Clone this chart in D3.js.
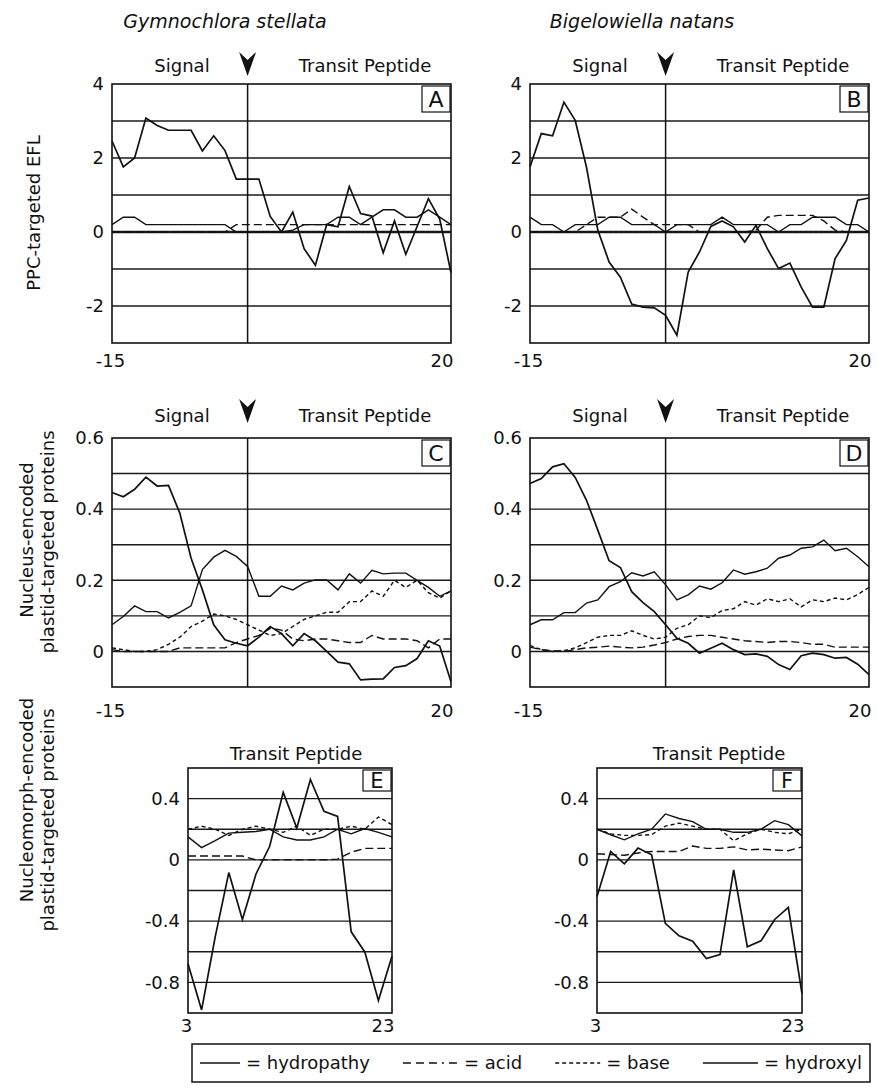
<!DOCTYPE html>
<html><head><meta charset="utf-8">
<script src="https://cdn.jsdelivr.net/npm/d3@7"></script>
<style>
body{margin:0;background:#fff;}
text{font-family:"DejaVu Sans",Verdana,sans-serif;fill:#111;}
</style>
</head><body>
<svg id="c" width="878" height="1088"></svg>
<script>
// ---------- DATA ----------
const xLabelsTop = ["-15", "20"];
const xLabelsBottom = ["3", "23"];
const yTicksAB = [4, 2, 0, -2];
const yTicksCD = [0.6, 0.4, 0.2, 0];
const yTicksEF = [0.4, 0, -0.4, -0.8];
const gridAB = [3, 2, 1, 0, -1, -2];
const gridCD = [0.5, 0.4, 0.3, 0.2, 0.1, 0];
const gridEF = [0.4, 0.2, 0, -0.2, -0.4, -0.6, -0.8];
const legendLabels = ["= hydropathy", "= acid", "= base", "= hydroxyl"];

// Panel A (Gymnochlora stellata, PPC-targeted EFL)
const hydropathyA = [2.46,1.76,2.0,3.08,2.88,2.75,2.75,2.75,2.19,2.6,2.2,1.43,1.43,1.43,0.42,0,0.54,-0.45,-0.9,0.2,0.14,1.23,0.5,0.43,-0.56,0.3,-0.6,0.15,0.9,0.35,-1.1];
const acidA = [0,0,0,0,0,0,0,0,0,0,0,0.2,0.2,0.2,0.2,0.2,0.2,0.2,0.2,0.2,0.2,0.2,0.2,0.2,0.2,0.2,0.2,0.2,0.2,0.2,0.2];
const baseA = [0,0,0,0,0,0,0,0,0,0,0,0,0,0,0,0,0,0,0,0,0,0,0,0,0,0,0,0,0,0,0];
const hydroxylA = [0.2,0.4,0.4,0.2,0.2,0.2,0.2,0.2,0.2,0.2,0.2,0,0,0,0,0,0.05,0.2,0.2,0.2,0.4,0.4,0.2,0.4,0.6,0.6,0.4,0.4,0.6,0.4,0.2];

// Panel B (Bigelowiella natans, PPC-targeted EFL)
const hydropathyB = [1.76,2.66,2.6,3.51,3.02,1.75,0.05,-0.81,-1.22,-1.95,-2.03,-2.05,-2.25,-2.79,-1.08,-0.54,0.15,0.3,0.14,-0.27,0.18,-0.45,-0.99,-0.84,-1.49,-2.03,-2.03,-0.72,-0.23,0.86,0.92];
const acidB = [0,0,0,0,0,0.2,0.4,0.4,0.4,0.62,0.4,0.2,0.2,0.2,0.2,0,0,0,0,0,0.05,0.4,0.45,0.45,0.45,0.45,0.3,0.05,0,0,0];
const baseB = [0,0,0,0,0,0,0,0,0,0,0,0,0,0,0,0,0,0,0,0,0,0,0,0,0,0,0,0,0,0,0];
const hydroxylB = [0.4,0.2,0.2,0,0.2,0.2,0.2,0.4,0.4,0.2,0.2,0.2,0,0.2,0.2,0.2,0.2,0.4,0.2,0.2,0.2,0.2,0,0.2,0.2,0.4,0.4,0.4,0.2,0.2,0];

// Panel C (Gymnochlora, nucleus-encoded)
const hydropathyC = [0.447,0.435,0.456,0.49,0.465,0.467,0.389,0.262,0.173,0.075,0.033,0.023,0.016,0.04,0.07,0.05,0.016,0.05,0.03,0.0,-0.03,-0.035,-0.08,-0.078,-0.077,-0.045,-0.04,-0.02,0.03,0.015,-0.085];
const acidC = [0.005,0,0,0,0,0,0.01,0.01,0.01,0.01,0.01,0.025,0.035,0.045,0.065,0.06,0.035,0.03,0.035,0.035,0.03,0.025,0.025,0.045,0.035,0.035,0.035,0.03,0.01,0.035,0.035];
const baseC = [0.01,0.005,0,0,0.005,0.02,0.04,0.07,0.085,0.105,0.1,0.09,0.075,0.06,0.045,0.05,0.07,0.09,0.1,0.11,0.11,0.14,0.14,0.17,0.155,0.2,0.18,0.2,0.165,0.15,0.17];
const hydroxylC = [0.075,0.098,0.128,0.112,0.112,0.094,0.11,0.128,0.23,0.265,0.284,0.267,0.239,0.155,0.155,0.184,0.173,0.192,0.201,0.201,0.173,0.218,0.192,0.228,0.218,0.22,0.22,0.2,0.18,0.155,0.17];

// Panel D (Bigelowiella, nucleus-encoded)
const hydropathyD = [0.472,0.486,0.519,0.528,0.489,0.425,0.341,0.255,0.236,0.168,0.137,0.112,0.075,0.037,0.023,-0.005,0.009,0.023,0.005,-0.009,-0.007,-0.014,-0.037,-0.051,-0.012,-0.005,-0.009,-0.019,-0.017,-0.036,-0.065];
const acidD = [0.012,0.005,0.002,0,0.005,0.01,0.012,0.015,0.012,0.01,0.012,0.018,0.025,0.035,0.042,0.045,0.045,0.04,0.035,0.03,0.028,0.025,0.028,0.028,0.025,0.02,0.02,0.012,0.012,0.012,0.012];
const baseD = [0.017,0.005,0,0.002,0.01,0.025,0.04,0.045,0.045,0.058,0.045,0.035,0.04,0.065,0.075,0.1,0.095,0.115,0.12,0.14,0.13,0.148,0.14,0.148,0.125,0.145,0.14,0.15,0.145,0.16,0.18];
const hydroxylD = [0.075,0.089,0.089,0.109,0.109,0.136,0.145,0.182,0.196,0.221,0.212,0.224,0.187,0.145,0.159,0.184,0.175,0.193,0.229,0.217,0.224,0.234,0.262,0.271,0.29,0.294,0.313,0.283,0.29,0.266,0.238];

// Panel E (Gymnochlora, nucleomorph-encoded)
const hydropathyE = [-0.678,-0.98,-0.503,-0.083,-0.389,-0.092,0.087,0.441,0.208,0.525,0.317,0.284,-0.47,-0.601,-0.918,-0.63];
const acidE = [0.025,0.025,0.025,0.025,0.025,0,0,0,0,0,0,0.005,0.05,0.075,0.075,0.075];
const baseE = [0.2,0.22,0.2,0.16,0.2,0.22,0.2,0.18,0.22,0.16,0.2,0.2,0.22,0.2,0.28,0.23];
const hydroxylE = [0.15,0.08,0.125,0.175,0.18,0.185,0.2,0.15,0.13,0.13,0.15,0.2,0.17,0.205,0.18,0.15];

// Panel F (Bigelowiella, nucleomorph-encoded)
const hydropathyF = [-0.24,0.055,-0.026,0.077,0.033,-0.415,-0.496,-0.531,-0.645,-0.619,-0.066,-0.568,-0.529,-0.389,-0.31,-0.874];
const acidF = [0.04,0.035,0.03,0.045,0.055,0.055,0.055,0.09,0.075,0.075,0.085,0.065,0.07,0.065,0.06,0.085];
const baseF = [0.2,0.17,0.16,0.16,0.165,0.22,0.24,0.22,0.2,0.2,0.125,0.17,0.2,0.18,0.17,0.2];
const hydroxylF = [0.2,0.164,0.131,0.17,0.2,0.3,0.27,0.25,0.2,0.2,0.18,0.18,0.2,0.256,0.23,0.157];

// ---------- DRAWING ----------
const svg = d3.select("#c");
const INK = "#111";

const styles = {
  base:       {w: 1.4, dash: "4,3"},
  acid:       {w: 1.4, dash: "8,4"},
  hydroxyl:   {w: 1.4, dash: null},
  hydropathy: {w: 1.7, dash: null}
};

function arrow(cx, top) {
  svg.append("path")
    .attr("d", `M${cx-8.5},${top} L${cx},${top+8} L${cx+8.5},${top} L${cx},${top+24} Z`)
    .attr("fill", INK);
}

function drawPanel(p) {
  const g = svg.append("g");
  const n = p.series.hydropathy.length;
  const x = d3.scaleLinear().domain([0, n - 1]).range([p.x0, p.x1]);
  const y = d3.scaleLinear().domain(p.yDomain).range([p.y1, p.y0]);

  g.selectAll("line.grid").data(p.grid).join("line")
    .attr("x1", p.x0).attr("x2", p.x1)
    .attr("y1", d => y(d)).attr("y2", d => y(d))
    .attr("stroke", "#1a1a1a")
    .attr("stroke-width", d => (d === 0 && p.thickZero) ? 2.6 : 1.4);

  if (p.divider != null) {
    g.append("line").attr("x1", x(p.divider)).attr("x2", x(p.divider))
      .attr("y1", p.y0).attr("y2", p.y1).attr("stroke", INK).attr("stroke-width", 1.5);
  }

  const line = d3.line().x((d, i) => x(i)).y(d => y(d));
  ["base", "acid", "hydroxyl", "hydropathy"].forEach(k => {
    const st = styles[k];
    g.append("path").datum(p.series[k])
      .attr("d", line).attr("fill", "none").attr("stroke", INK)
      .attr("stroke-width", st.w)
      .attr("stroke-linejoin", "miter")
      .attr("stroke-dasharray", (k === "base" && p.thickZero) ? "2,3" : st.dash);
  });

  g.append("rect").attr("x", p.x0).attr("y", p.y0)
    .attr("width", p.x1 - p.x0).attr("height", p.y1 - p.y0)
    .attr("fill", "none").attr("stroke", INK).attr("stroke-width", 1.6);

  // letter box
  const bw = 28, bh = p.boxH;
  g.append("rect").attr("x", p.x1 - bw - 1).attr("y", p.y0 + 2)
    .attr("width", bw).attr("height", bh)
    .attr("fill", "#fff").attr("stroke", INK).attr("stroke-width", 1.2);
  g.append("text").attr("x", p.x1 - bw / 2 - 1).attr("y", p.y0 + 2 + bh / 2)
    .attr("dy", "0.36em").attr("text-anchor", "middle")
    .style("font-size", p.letterSize + "px").text(p.letter);

  // y axis labels
  const ya = g.append("g").attr("transform", `translate(${p.x0},0)`)
    .call(d3.axisLeft(y).tickValues(p.yTicks).tickSize(0).tickPadding(8).tickFormat(d => String(d)));
  ya.select(".domain").remove();
  ya.selectAll("text").style("font-size", "18px").style("font-family", '"DejaVu Sans",Verdana,sans-serif').attr("fill", INK);

  // x axis labels
  const xa = g.append("g").attr("transform", `translate(0,${p.y1})`)
    .call(d3.axisBottom(x).tickValues([0, n - 1]).tickSize(0).tickPadding(p.xPad)
      .tickFormat((d, i) => p.xLabels[i]));
  xa.select(".domain").remove();
  xa.selectAll("text").style("font-size", "18px").style("font-family", '"DejaVu Sans",Verdana,sans-serif').attr("fill", INK)
    .attr("text-anchor", (d, i) => i === 0 ? "middle" : "end")
    .attr("dx", (d, i) => i === 0 ? -2 : 2);
}

const LX = 112, RX = 530, W = 339;
const rowAB = {y0: 84, y1: 343};
const rowCD = {y0: 438, y1: 687};

drawPanel({x0: LX, x1: LX + W, ...rowAB, yDomain: [-3, 4], grid: gridAB, yTicks: yTicksAB, thickZero: true, divider: 12,
  xLabels: xLabelsTop, xPad: 11, letter: "A", boxH: 26, letterSize: 22,
  series: {hydropathy: hydropathyA, acid: acidA, base: baseA, hydroxyl: hydroxylA}});
drawPanel({x0: RX, x1: RX + W, ...rowAB, yDomain: [-3, 4], grid: gridAB, yTicks: yTicksAB, thickZero: true, divider: 12,
  xLabels: xLabelsTop, xPad: 11, letter: "B", boxH: 26, letterSize: 22,
  series: {hydropathy: hydropathyB, acid: acidB, base: baseB, hydroxyl: hydroxylB}});
drawPanel({x0: LX, x1: LX + W, ...rowCD, yDomain: [-0.1, 0.6], grid: gridCD, yTicks: yTicksCD, thickZero: false, divider: 12,
  xLabels: xLabelsTop, xPad: 17, letter: "C", boxH: 26, letterSize: 22,
  series: {hydropathy: hydropathyC, acid: acidC, base: baseC, hydroxyl: hydroxylC}});
drawPanel({x0: RX, x1: RX + W, ...rowCD, yDomain: [-0.1, 0.6], grid: gridCD, yTicks: yTicksCD, thickZero: false, divider: 12,
  xLabels: xLabelsTop, xPad: 17, letter: "D", boxH: 26, letterSize: 22,
  series: {hydropathy: hydropathyD, acid: acidD, base: baseD, hydroxyl: hydroxylD}});
drawPanel({x0: 188, x1: 392, y0: 768, y1: 1013, yDomain: [-1, 0.6], grid: gridEF, yTicks: yTicksEF, thickZero: false, divider: null,
  xLabels: xLabelsBottom, xPad: 6, letter: "E", boxH: 21, letterSize: 21,
  series: {hydropathy: hydropathyE, acid: acidE, base: baseE, hydroxyl: hydroxylE}});
drawPanel({x0: 597, x1: 802, y0: 768, y1: 1013, yDomain: [-1, 0.6], grid: gridEF, yTicks: yTicksEF, thickZero: false, divider: null,
  xLabels: xLabelsBottom, xPad: 6, letter: "F", boxH: 21, letterSize: 21,
  series: {hydropathy: hydropathyF, acid: acidF, base: baseF, hydroxyl: hydroxylF}});

// headers
function txt(x, y, s, size, opts = {}) {
  const t = svg.append("text").attr("x", x).attr("y", y).attr("text-anchor", opts.anchor || "middle")
    .style("font-size", size + "px").text(s);
  if (opts.italic) t.style("font-style", "italic");
  return t;
}
txt(225, 28, "Gymnochlora stellata", 19, {italic: true});
txt(642, 28, "Bigelowiella natans", 19, {italic: true});

[[LX, 72, 52], [RX, 72, 52], [LX, 422, 399], [RX, 422, 399]].forEach(([x0, ty, ay]) => {
  const dx = x0 + 12 * (W / 30);
  txt(x0 + 70, ty, "Signal", 18);
  txt(x0 + 253, ty, "Transit Peptide", 18);
  arrow(dx, ay);
});
txt(296, 760, "Transit Peptide", 18);
txt(719, 760, "Transit Peptide", 18);

// y titles
function vtxt(cx, cy, s) {
  svg.append("text").attr("transform", `translate(${cx},${cy}) rotate(-90)`)
    .attr("text-anchor", "middle").attr("dy", "0.35em").style("font-size", "18px").text(s);
}
vtxt(34, 213, "PPC-targeted EFL");
vtxt(27, 540, "Nucleus-encoded");
vtxt(48, 542, "plastid-targeted proteins");
vtxt(27, 800, "Nucleomorph-encoded");
vtxt(48, 820, "plastid-targeted proteins");

// legend
const lg = svg.append("g");
const boxX = 192, boxY = 1044, boxW = 678, boxH = 38;
lg.append("rect").attr("x", boxX).attr("y", boxY).attr("width", boxW).attr("height", boxH)
  .attr("fill", "#fff").attr("stroke", INK).attr("stroke-width", 1.5);
const sampleW = [40, 55, 45, 55];
const sampleDash = [null, "8,5,8,5,8,5,2,5", "4,3", null];
const texts = legendLabels.map(s => lg.append("text").attr("y", boxY + 25).style("font-size", "18px").text(s));
const tw = texts.map(t => t.node().getComputedTextLength());
const total = d3.sum(tw) + d3.sum(sampleW) + 4 * 6;
const gap = (boxW - 16 - total) / 3;
let cx = boxX + 8;
legendLabels.forEach((s, i) => {
  lg.append("line").attr("x1", cx).attr("x2", cx + sampleW[i]).attr("y1", boxY + 19).attr("y2", boxY + 19)
    .attr("stroke", INK).attr("stroke-width", 1.4).attr("stroke-dasharray", sampleDash[i]);
  cx += sampleW[i] + 6;
  texts[i].attr("x", cx);
  cx += tw[i] + gap;
});
</script>
</body></html>
